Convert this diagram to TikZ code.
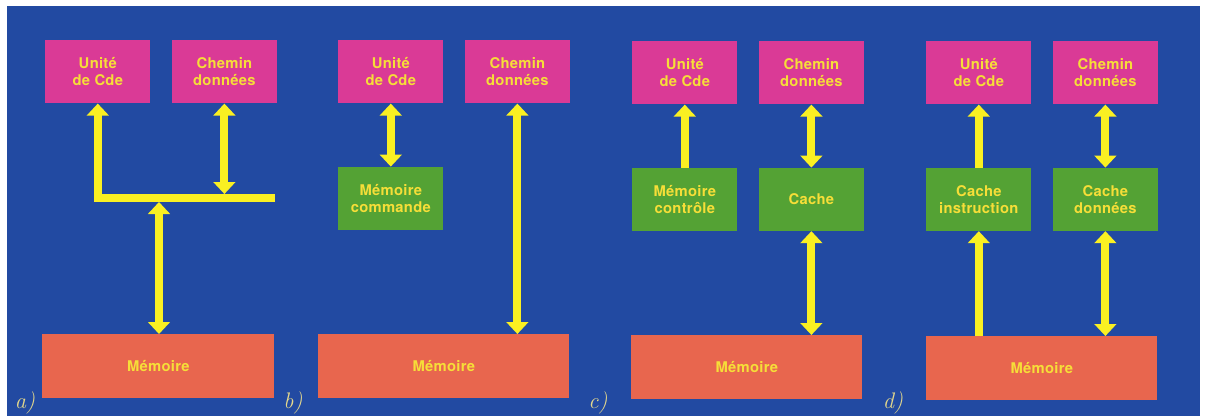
\documentclass[tikz,border=0pt]{standalone}
\usepackage{fontspec}
\newfontfamily\boxfamily[LetterSpace=2]{TeX Gyre Heros}
\usetikzlibrary{arrows.meta,positioning}
\definecolor{bgblue}{RGB}{34,74,162}
\definecolor{boxpink}{RGB}{218,58,150}
\definecolor{boxgreen}{RGB}{84,162,52}
\definecolor{boxsalmon}{RGB}{232,102,78}
\definecolor{busyellow}{RGB}{250,240,34}
\definecolor{txtyellow}{RGB}{246,222,56}
\definecolor{labelyellow}{RGB}{228,216,140}
\tikzset{
  unitbox/.style={
    rectangle,
    fill=boxpink,
    inner sep=0pt,
    minimum width=26.25mm,
    minimum height=15.75mm,
    align=center,
    text=txtyellow,
    font=\boxfamily\bfseries\fontsize{10.5}{11.8}\selectfont
  },
  cachebox/.style={
    unitbox,
    fill=boxgreen
  },
  membox/.style={
    unitbox,
    fill=boxsalmon,
    minimum height=16mm
  },
  bus/.style={
    line width=2mm,
    draw=busyellow,
    line join=miter
  },
  onearrow/.style={
    bus,
    -{Triangle[width=5.4mm,length=3mm]}
  },
  twoarrow/.style={
    bus,
    {Triangle[width=5.4mm,length=3mm]}-{Triangle[width=5.4mm,length=3mm]}
  },
  panellabel/.style={
    text=labelyellow,
    font=\rmfamily\itshape\fontsize{16}{18}\selectfont
  }
}

\begin{document}
\begin{tikzpicture}[x=0.025cm, y=-0.025cm, node distance=15.75mm and 5.25mm]
  \useasboundingbox (0,0) rectangle (1208,416);
  \fill[white] (0,0) rectangle (1208,416);
  \fill[bgblue] (7,6) rectangle (1200,416);

  % a) one shared bus
  \node[unitbox, anchor=north west] (ua) at (45,40) {Unité\\de Cde};
  \node[unitbox, right=of ua] (ca) {Chemin\\données};
  \node[membox, minimum width=58mm, anchor=north west] (ma) at (42,334) {Mémoire};
  \coordinate (busend) at (275,198);
  \coordinate (bustop) at (0,194);
  \coordinate (busbot) at (159,202);
  \draw[onearrow] (busend) -| (ua.south);
  \draw[twoarrow] (ca.south) -- (ca.south |- bustop);
  \draw[twoarrow] (busbot) -- (busbot |- ma.north);
  \node[panellabel] (la) at (25,403) {a)};

  % b) control memory
  \node[unitbox, anchor=north west] (ub) at (338,40) {Unité\\de Cde};
  \node[unitbox, right=of ub] (cb) {Chemin\\données};
  \node[cachebox, below=of ub] (gb) {Mémoire\\commande};
  \node[membox, minimum width=62.75mm, anchor=north west] (mb) at (318,334) {Mémoire};
  \draw[twoarrow] (ub.south) -- (ub.south |- gb.north);
  \draw[twoarrow] (cb.south) -- (cb.south |- mb.north);
  \node[panellabel] (lb) at (293,403) {b)};

  % c) cache on the data path
  \node[unitbox, anchor=north west] (uc) at (632,41) {Unité\\de Cde};
  \node[unitbox, right=of uc] (cc) {Chemin\\données};
  \node[cachebox, below=of uc] (gc1) {Mémoire\\contrôle};
  \node[cachebox, below=of cc] (gc2) {Cache};
  \node[membox, minimum width=57.75mm, anchor=north west] (mc) at (631,335) {Mémoire};
  \draw[onearrow] (gc1.north) -- (uc.south);
  \draw[twoarrow] (cc.south) -- (gc2.north);
  \draw[twoarrow] (gc2.south) -- (gc2.south |- mc.north);
  \node[panellabel] (lc) at (598,403) {c)};

  % d) split caches
  \node[unitbox, anchor=north west] (ud) at (926,41) {Unité\\de Cde};
  \node[unitbox, right=of ud] (cd) {Chemin\\données};
  \node[cachebox, below=of ud] (gd1) {Cache\\instruction};
  \node[cachebox, below=of cd] (gd2) {Cache\\données};
  \node[membox, minimum width=57.75mm, anchor=north west] (md) at (926,336) {Mémoire};
  \draw[onearrow] (gd1.north) -- (ud.south);
  \draw[onearrow] (gd1.south |- md.north) -- (gd1.south);
  \draw[twoarrow] (cd.south) -- (gd2.north);
  \draw[twoarrow] (gd2.south) -- (gd2.south |- md.north);
  \node[panellabel] (ld) at (893,403) {d)};
\end{tikzpicture}
\end{document}
